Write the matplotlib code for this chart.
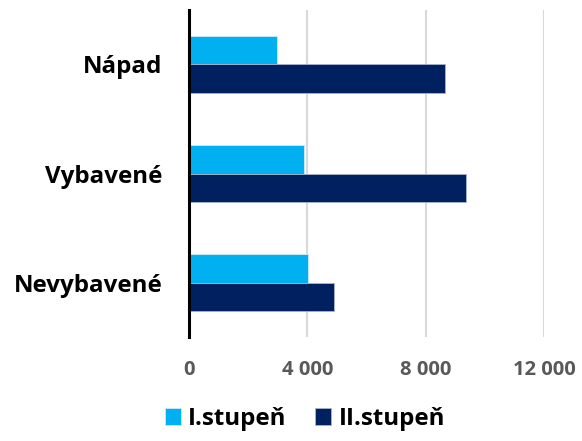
import matplotlib
matplotlib.use("Agg")
import matplotlib.pyplot as plt
import numpy as np

categories = ["Nápad", "Vybavené", "Nevybavené"]
series_names = ["I.stupeň", "II.stupeň"]
stupen1 = [2960, 3880, 4020]
stupen2 = [8660, 9380, 4910]
xticks = [0, 4000, 8000, 12000]
xtick_labels = ["0", "4 000", "8 000", "12 000"]

plt.rcParams['font.family'] = ['Open Sans', 'DejaVu Sans']

fig = plt.figure(figsize=(5.82, 4.41), dpi=100)
ax = fig.add_axes([0.3247, 0.235, 0.61, 0.743])

y = np.arange(len(categories))
h = 0.262
c1, c2 = "#00B0F0", "#002060"
ax.barh(y - h/2, stupen1, height=h, color=c1, edgecolor="#cfe9f7", linewidth=0.6, label=series_names[0], zorder=3)
ax.barh(y + h/2, stupen2, height=h, color=c2, edgecolor="#a9b4cc", linewidth=0.6, label=series_names[1], zorder=3)

ax.set_ylim(2.5, -0.5)
ax.set_xlim(0, 12000)
ax.set_yticks(y)
ax.set_yticklabels(categories, fontsize=17.4, fontweight="bold", color="black")
ax.set_xticks(xticks)
ax.set_xticklabels(xtick_labels, fontsize=14.5, fontweight="bold", color="#595959")
ax.tick_params(axis="y", length=0, pad=19)
ax.tick_params(axis="x", length=0, pad=16)
ax.grid(axis="x", color="#d9d9d9", linewidth=1.5, zorder=0)
for s in ["top", "right", "bottom"]:
    ax.spines[s].set_visible(False)
ax.spines["left"].set_color("black")
ax.spines["left"].set_linewidth(2.2)
ax.spines["left"].set_zorder(4)

leg = fig.legend(loc="center", bbox_to_anchor=(0.524, 0.05), ncol=2, frameon=False,
                 prop={"size": 17.4, "weight": "bold"}, handlelength=0.65, handleheight=0.65,
                 handletextpad=0.3, columnspacing=1.2)

fig.savefig("out.png", dpi=100)
